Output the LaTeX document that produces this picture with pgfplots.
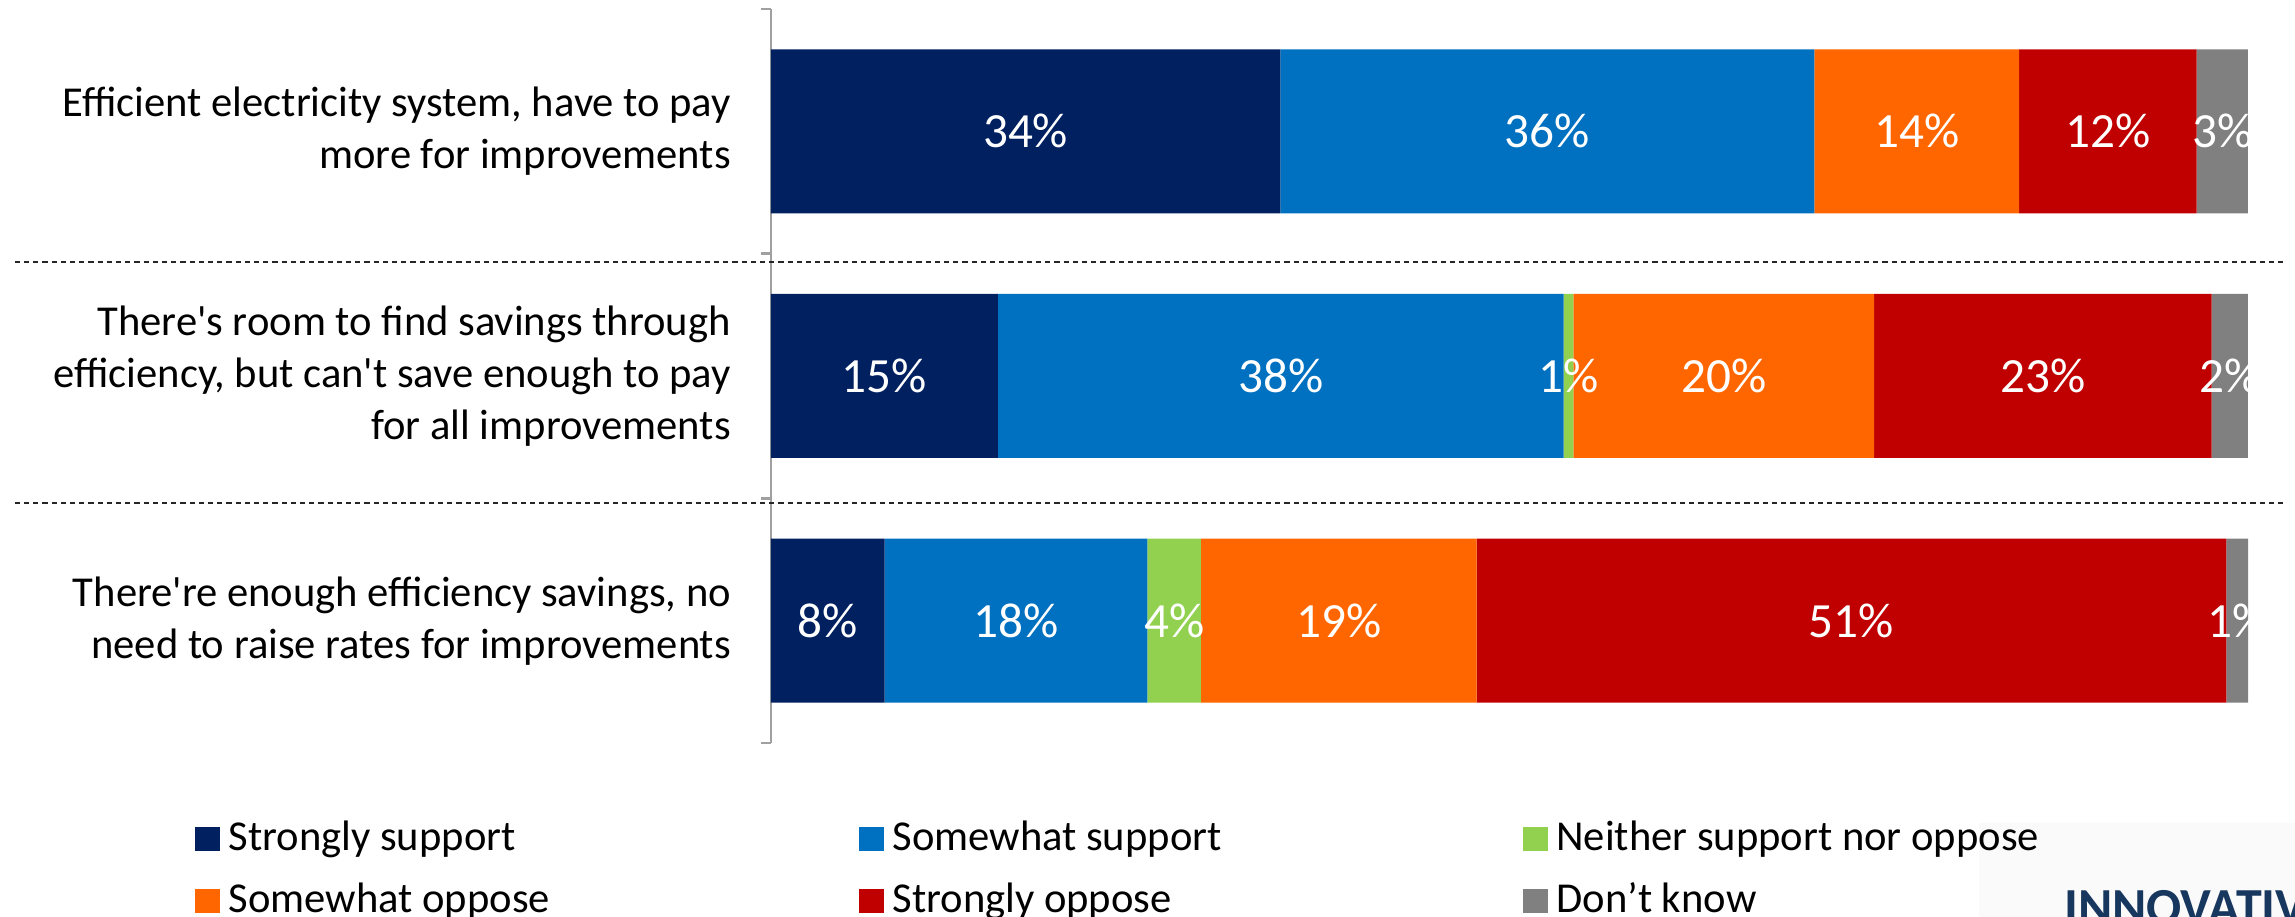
\documentclass[border=0pt]{standalone}
\usepackage{pgfplots}
\pgfplotsset{compat=1.18}
\usepackage{fontspec}
\setmainfont{Carlito}

\definecolor{strongsup}{HTML}{002060}
\definecolor{somesup}{HTML}{0070C0}
\definecolor{neither}{HTML}{92D050}
\definecolor{someopp}{HTML}{FF6600}
\definecolor{strongopp}{HTML}{C00000}
\definecolor{dontknow}{HTML}{808080}
\definecolor{axisgray}{HTML}{A0A0A0}
\definecolor{logoblue}{HTML}{17375E}

\newcommand\lentry[1]{\makebox[157.5pt][l]{#1}}

\begin{document}
\begin{tikzpicture}
\useasboundingbox (-192.75pt,-43.5pt) rectangle (381pt,185.75pt);
\clip (-192.75pt,-43.5pt) rectangle (381pt,185.75pt);
\fill[black!2] (302pt,-43.5pt) rectangle (381pt,-20pt);
\begin{axis}[
  at={(0pt,0pt)}, anchor=south west,
  width=369.25pt, height=183.5pt, scale only axis,
  xbar stacked, bar width=41pt,
  xmin=0, xmax=100, ymin=-0.5, ymax=2.5, y dir=reverse,
  enlargelimits=false, clip=false,
  axis x line=none,
  axis y line*=left,
  y axis line style={draw=axisgray, line width=0.6pt},
  ytick={0,1,2},
  yticklabels={
    {Efficient electricity system, have to pay\\more for improvements},
    {There\textquotesingle s room to find savings through\\efficiency, but can\textquotesingle t save enough to pay\\for all improvements},
    {There\textquotesingle re enough efficiency savings, no\\need to raise rates for improvements}},
  y tick style={draw=none},
  tick align=outside,
  major tick length=2.5pt,
  extra y ticks={-0.5,0.5,1.5,2.5},
  extra y tick labels={},
  extra y tick style={y tick style={draw=axisgray, line width=0.6pt}},
  yticklabel style={align=right, font=\fontsize{10.65}{13}\selectfont, xshift=-4pt},
  point meta=explicit symbolic,
  nodes near coords,
  % stacked bars: labels already sit in the middle of each segment
  every node near coord/.append style={anchor=center,
      font=\fontsize{12.3}{12}\selectfont, text=white},
  legend columns=3,
  legend cell align=left,
  legend style={at={(axis description cs:0,0)}, anchor=north west,
      xshift=-144pt, yshift=-19.5pt,
      draw=none, fill=none, inner sep=0pt, outer sep=0pt,
      row sep=5.5pt,
      nodes={inner sep=0pt, text height=7.5pt, text depth=2.5pt,
             font=\fontsize{10.65}{13}\selectfont},
      /tikz/every odd column/.append style={column sep=2.2pt},
      /tikz/every even column/.append style={column sep=0pt}},
  legend image code/.code={\fill[#1] (0pt,-2.5pt) rectangle (6.25pt,3.6pt);},
]
\addplot[fill=strongsup, draw=none] coordinates {(34.48,0) [34\%] (15.37,1) [15\%] (7.69,2) [8\%]};
\addplot[fill=somesup, draw=none] coordinates {(36.16,0) [36\%] (38.29,1) [38\%] (17.80,2) [18\%]};
\addplot[fill=neither, draw=none] coordinates {(0,0) [{}] (0.66,1) [1\%] (3.61,2) [4\%]};
\addplot[fill=someopp, draw=none] coordinates {(13.86,0) [14\%] (20.36,1) [20\%] (18.68,2) [19\%]};
\addplot[fill=strongopp, draw=none] coordinates {(12.02,0) [12\%] (22.85,1) [23\%] (50.75,2) [51\%]};
\addplot[fill=dontknow, draw=none] coordinates {(3.48,0) [3\%] (2.47,1) [2\%] (1.48,2) [1\%]};
\legend{\lentry{Strongly support}, \lentry{Somewhat support}, \lentry{Neither support nor oppose},
        \lentry{Somewhat oppose}, \lentry{Strongly oppose}, \lentry{Don’t know}}
\draw[black!85, line width=0.5pt, dash pattern=on 1.3pt off 1pt]
  (axis cs:-51.2,0.533) -- (axis cs:102.4,0.533);
\draw[black!85, line width=0.5pt, dash pattern=on 1.3pt off 1pt]
  (axis cs:-51.2,1.52) -- (axis cs:102.4,1.52);
\end{axis}
\node[anchor=base west, font=\fontsize{13}{13}\bfseries\selectfont, text=logoblue]
  at (319.75pt,-45.5pt) {INNOVATIVE};
\end{tikzpicture}
\end{document}
